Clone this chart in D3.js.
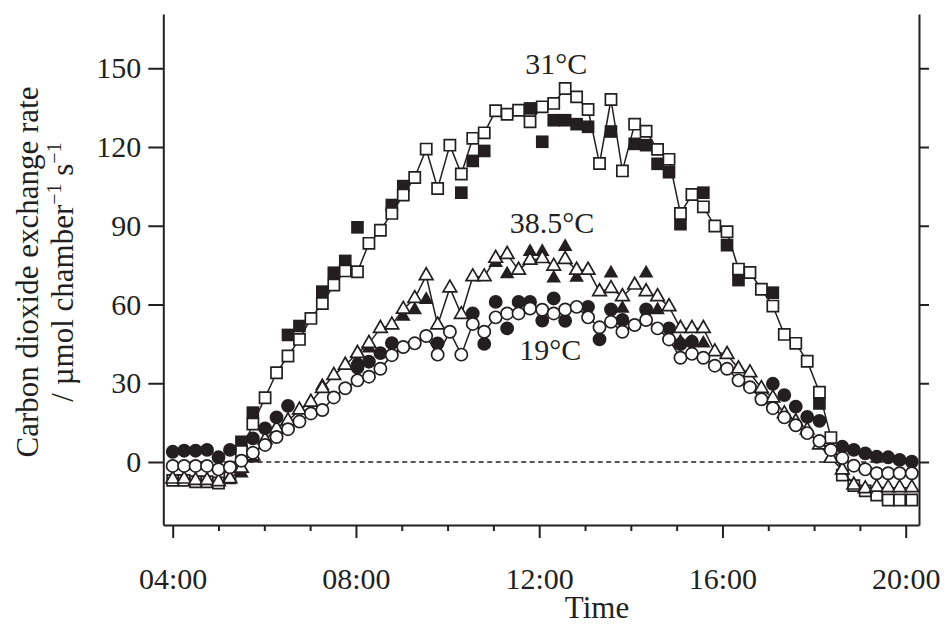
<!DOCTYPE html>
<html>
<head>
<meta charset="utf-8">
<script src="https://cdn.jsdelivr.net/npm/d3@7"></script>
<style>
  html, body { margin: 0; padding: 0; background: #fff; }
  svg { display: block; font-family: 'Liberation Serif', 'Times New Roman', serif; }
</style>
</head>
<body>
<svg class="canvas" width="946" height="628"></svg>
<script>
'use strict'

// Logger times (about every 15 min).
const times = [
  '04:00', '04:15', '04:30', '04:45', '05:00', '05:15', '05:30', '05:45',
  '06:01', '06:16', '06:31', '06:46', '07:01', '07:16', '07:31', '07:46',
  '08:02', '08:17', '08:32', '08:47', '09:02', '09:17', '09:32', '09:47',
  '10:03', '10:18', '10:33', '10:48', '11:03', '11:18', '11:33', '11:48',
  '12:04', '12:19', '12:34', '12:49', '13:04', '13:19', '13:34', '13:49',
  '14:05', '14:20', '14:35', '14:50', '15:05', '15:20', '15:35', '15:50',
  '16:06', '16:21', '16:36', '16:51', '17:06', '17:21', '17:36', '17:51',
  '18:07', '18:22', '18:37', '18:52', '19:07', '19:22', '19:37', '19:52',
  '20:08',
]

// 31 ºC, open squares (joined) and filled squares.
const open31 = [
  -7, -7, -7.5, -7.5, -8, -6, 4, 14.5, 24.5, 34, 40.4, 46.7, 54.7, 60.4, 67.4, 72.8,
  72.5, 83.3, 88.3, 94.7, 101.7, 108.4, 119.2, 104.2, 120.7, 109.7, 123.3, 125.4, 133.8, 132.5, 134, 129.6,
  135.3, 136.6, 142.3, 139.1, 134.3, 113.7, 138.1, 110.9, 128.7, 126, 119.1, 115.3, 94.7, 101.9, 97.2, 89.9,
  87.7, 73.5, 72.2, 65.8, 59.4, 48.6, 45.2, 38.4, 26.6, 9.3, -5, -9, -11, -12.6, -14.5, -14.5,
  -14.5,
]
const filled31 = [
  null, null, null, null, null, null, 7.7, 18.8, null, null, 48.4, 51.8, null, 64.9, 72.1, 76.6,
  89.4, null, null, 97.9, 105.1, null, null, null, null, 102.6, 114.7, 118.5, null, null, null, 134.7,
  122, 130.2, 130.2, 128.7, 127.7, null, 125.9, null, 121.2, 120.7, 113.6, 110.4, 90.6, null, 102.6, null,
  82.6, 69.3, null, null, 64.5, null, null, null, 22.3, null, null, null, null, null, null, null,
  null,
]

// 38.5 ºC, open triangles (joined) and filled triangles.
const open385 = [
  -6.5, -6.5, -7, -7, -7.5, -6.4, -2.4, 2.3, 8.4, 12.8, 15.7, 19.8, 22.8, 28, 33, 36.9,
  41.4, 45.2, 50.9, 52.2, 58.2, 62.3, 71, 52.2, 66.3, 56.2, 70.6, 70.6, 77.6, 79.1, 73.1, 76.9,
  77.5, 74.6, 77.2, 73.1, 73.1, 64.9, 66.1, 63, 67.4, 64.9, 63, 59.2, 50.9, 50.9, 50.9, 42,
  41, 35.5, 34, 28, 24.4, 18.4, 15.4, 12.2, 6.5, 1.4, -3, -8.8, -10.2, -9.6, -9.8, -9.8,
  -9.8,
]
const filled385 = [
  null, null, null, null, null, null, -4.3, 1.4, null, null, null, null, null, 29, null, null,
  38.8, 43.3, null, null, 55.4, 57.9, 61.8, null, null, null, null, null, 75.9, 71.6, null, 80.1,
  80.1, 70, 82, 70.3, null, null, 71.9, 58.5, null, 71.9, 57.9, null, 45.8, 45.8, 45.2, null,
  null, null, null, null, null, null, null, null, null, null, null, null, null, null, null, null,
  null,
]

// 19 ºC, open circles (joined) and filled circles.
const open19 = [
  -1.5, -1.5, -1.5, -1.5, -2.8, -2, 0.5, 3.5, 6.5, 9.5, 12.5, 15.4, 18.5, 19.8, 24.6, 28.1,
  31.1, 32.5, 35.5, 40.7, 43.8, 45.2, 48, 40.9, 49.6, 40.9, 52.6, 49.6, 55.1, 56.6, 56.6, 58.5,
  58, 56.6, 58.1, 59.1, 55.1, 51.3, 53.4, 49.6, 52.2, 54.1, 50.9, 46.7, 39.7, 41.2, 39.7, 36.7,
  35.5, 31.1, 28.5, 23.9, 20.5, 17, 14, 11, 8, 4.6, 1.5, -1.4, -2.8, -4.3, -4.3, -4.3,
  -4.3,
]
const filled19 = [
  3.9, 4.3, 4.3, 4.6, 1.8, 4.6, null, 9, 12.8, 17, 21.4, null, null, null, null, null,
  36, 38.2, 41.5, 45.3, null, null, null, 45.2, null, null, 56.6, 45, 61, 50.9, 61, 61,
  53.9, 62.3, 53.8, null, 59.1, 46.7, 58.1, 54.1, null, 58.1, null, 50.9, 44.9, 45.8, null, null,
  null, null, null, null, 29.8, 25.5, 21.1, 17.2, 15.7, null, 5.8, 4.6, 3.3, 2, 1.8, 0.8,
  0.1,
]

const yTicks = [0, 30, 60, 90, 120, 150]
const xTicks = d3.range(4, 21)
const xLabels = { 4: '04:00', 8: '08:00', 12: '12:00', 16: '16:00', 20: '20:00' }

const ink = '#231f20'
const hours = times.map(t => {
  const [h, m] = t.split(':')
  return +h + m / 60
})

const svg = d3.select('.canvas')
const plotLeft = 163.3,
  plotRight = 919,
  plotTop = 14,
  plotBottom = 525

const x = d3.scaleLinear().domain([3.795, 20.29]).range([plotLeft, plotRight])
const y = d3.scaleLinear().domain([-24, 170.67]).range([plotBottom, plotTop])

// Axes.
const xAxis = svg
  .append('g')
  .attr('transform', `translate(0, ${plotBottom})`)
  .call(
    d3.axisBottom(x)
      .tickValues(xTicks)
      .tickFormat(h => xLabels[h] || '')
      .tickSize(13)
      .tickSizeOuter(0)
      .tickPadding(30)
  )
xAxis.selectAll('.tick line').attr('y2', h => (xLabels[h] ? 13 : 6))

svg
  .append('g')
  .attr('transform', `translate(${plotLeft}, 0)`)
  .call(d3.axisLeft(y).tickValues(yTicks).tickSize(15).tickSizeOuter(0).tickPadding(7))

svg
  .append('g')
  .attr('transform', `translate(${plotRight}, 0)`)
  .call(d3.axisRight(y).tickValues(yTicks).tickFormat('').tickSize(10).tickSizeOuter(0))

svg.selectAll('.domain, .tick line').attr('stroke', ink).attr('stroke-width', 2)
svg.selectAll('g').attr('font-family', null)
svg.selectAll('.tick text').attr('fill', ink).style('font-size', '30px')

// Zero line.
svg
  .append('line')
  .attr('x1', x(4))
  .attr('x2', x(20))
  .attr('y1', y(0))
  .attr('y2', y(0))
  .attr('stroke', ink)
  .attr('stroke-width', 1.4)
  .attr('stroke-dasharray', '5 3.5')

// Series.
const series = [
  { open: open31, filled: filled31, type: d3.symbolSquare, openSize: 125, filledSize: 160 },
  { open: open385, filled: filled385, type: d3.symbolTriangle, openSize: 80, filledSize: 92 },
  { open: open19, filled: filled19, type: d3.symbolCircle, openSize: 118, filledSize: 150 },
]

const line = d3
  .line()
  .x(d => x(d.h))
  .y(d => y(d.v))

series.forEach(s => {
  const openPts = s.open.map((v, i) => ({ h: hours[i], v }))
  const filledPts = s.filled
    .map((v, i) => ({ h: hours[i], v }))
    .filter(d => d.v !== null)

  const g = svg.append('g')

  g.selectAll('.filled')
    .data(filledPts)
    .enter()
    .append('path')
    .attr('class', 'filled')
    .attr('transform', d => `translate(${x(d.h)}, ${y(d.v)})`)
    .attr('d', d3.symbol().type(s.type).size(s.filledSize))
    .attr('fill', ink)

  g.append('path')
    .datum(openPts)
    .attr('d', line)
    .attr('fill', 'none')
    .attr('stroke', ink)
    .attr('stroke-width', 1.5)

  g.selectAll('.open')
    .data(openPts)
    .enter()
    .append('path')
    .attr('class', 'open')
    .attr('transform', d => `translate(${x(d.h)}, ${y(d.v)})`)
    .attr('d', d3.symbol().type(s.type).size(s.openSize))
    .attr('fill', '#fff')
    .attr('stroke', ink)
    .attr('stroke-width', 1.7)
})

// Temperature labels.
const notes = [
  { text: '31°C', h: 12.37, v: 147.8 },
  { text: '38.5°C', h: 12.28, v: 87.2 },
  { text: '19°C', h: 12.24, v: 38.9 },
]
svg
  .selectAll('.note')
  .data(notes)
  .enter()
  .append('text')
  .attr('class', 'note')
  .attr('x', d => x(d.h))
  .attr('y', d => y(d.v))
  .attr('text-anchor', 'middle')
  .attr('fill', ink)
  .style('font-size', '30px')
  .text(d => d.text)

// Axis titles.
svg
  .append('text')
  .attr('x', 597)
  .attr('y', 618)
  .attr('text-anchor', 'middle')
  .attr('fill', ink)
  .style('font-size', '31px')
  .text('Time')

const yTitle = svg
  .append('text')
  .attr('transform', 'translate(38, 272) rotate(-90)')
  .attr('text-anchor', 'middle')
  .attr('fill', ink)
  .style('font-size', '31px')
yTitle.append('tspan').attr('x', 0).attr('y', 0).text('Carbon dioxide exchange rate')
const line2 = yTitle.append('tspan').attr('x', 0).attr('y', 35)
line2.append('tspan').text('/ µmol chamber')
line2.append('tspan').attr('dy', -12).style('font-size', '20px').text('−1')
line2.append('tspan').attr('dy', 12).text(' s')
line2.append('tspan').attr('dy', -12).style('font-size', '20px').text('−1')
</script>
</body>
</html>
